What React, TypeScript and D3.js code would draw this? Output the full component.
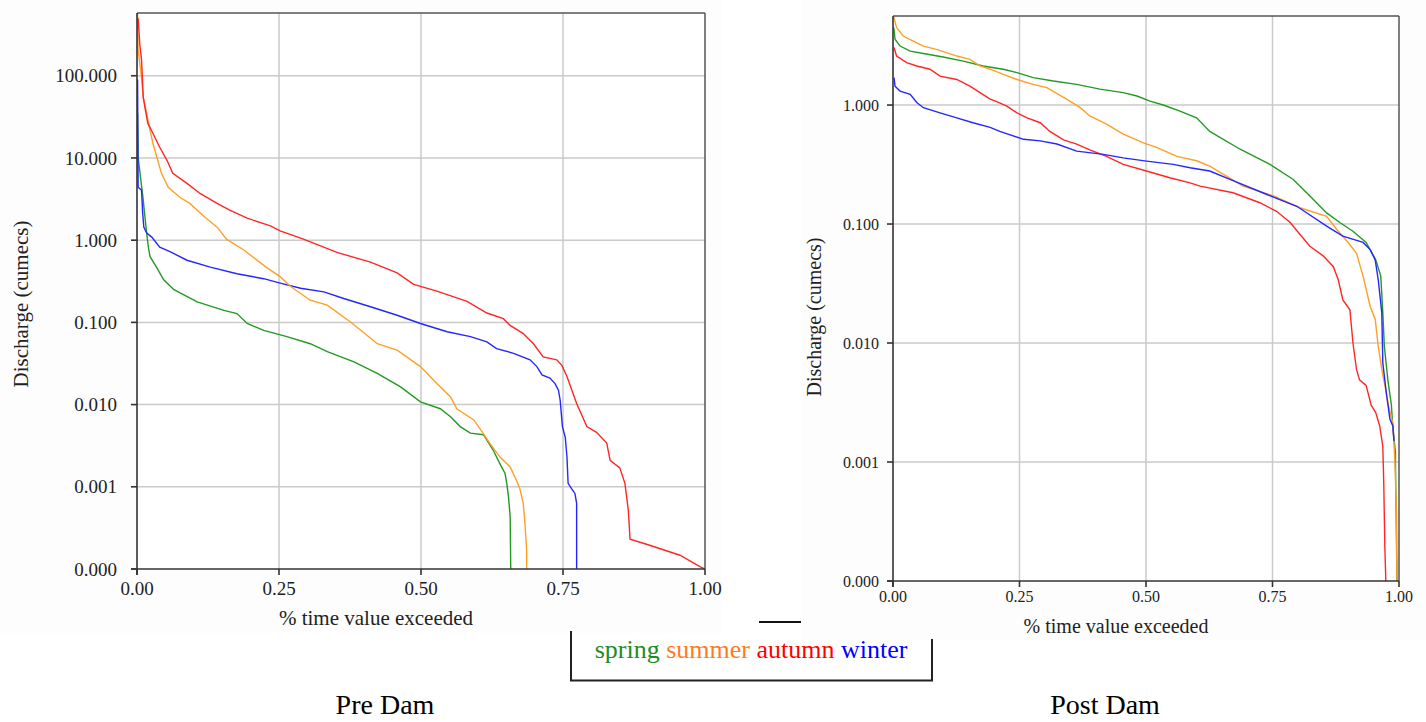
import React from "react";
import * as d3 from "d3";

type Pt = [number, number];

// ---- Tick values ----
const xTickValues = [0, 0.25, 0.5, 0.75, 1];
const preYTickValues = [0.0001, 0.001, 0.01, 0.1, 1, 10, 100];
const postYTickValues = [0.0001, 0.001, 0.01, 0.1, 1];

const seasons = ["spring", "summer", "autumn", "winter"];
const lineColors: Record<string, string> = {
  spring: "#229a22",
  summer: "#ff9f26",
  autumn: "#ff2626",
  winter: "#2626ff",
};
const legendColors: Record<string, string> = {
  spring: "#1e8c1e",
  summer: "#ff7a1e",
  autumn: "#ff0000",
  winter: "#0000ff",
};

// ---- Pre Dam data: [fraction of time exceeded, discharge (cumecs)] ----
const preSpring: Pt[] = [
  [0.001, 35], [0.002, 10.2], [0.011, 3.07], [0.014, 1.9], [0.017, 1.22], [0.02, 0.82],
  [0.023, 0.63], [0.035, 0.46], [0.047, 0.33], [0.065, 0.25], [0.106, 0.178], [0.153, 0.14],
  [0.176, 0.128], [0.194, 0.097], [0.223, 0.08], [0.264, 0.067], [0.305, 0.055], [0.335, 0.044],
  [0.382, 0.033], [0.423, 0.024], [0.464, 0.0164], [0.499, 0.0108], [0.534, 0.0089],
  [0.552, 0.0071], [0.569, 0.0054], [0.587, 0.0045], [0.61, 0.0043], [0.627, 0.0028],
  [0.639, 0.0019], [0.648, 0.00145], [0.651, 0.0011], [0.654, 0.00076], [0.657, 0.00043],
  [0.658, 0.0001],
];
const preSummer: Pt[] = [
  [0.001, 580], [0.002, 205], [0.007, 108], [0.011, 55], [0.017, 35], [0.023, 21.7],
  [0.028, 15.1], [0.035, 10.2], [0.043, 6.5], [0.055, 4.4], [0.076, 3.3], [0.093, 2.8],
  [0.116, 2.0], [0.141, 1.44], [0.158, 1.02], [0.188, 0.76], [0.229, 0.46], [0.252, 0.36],
  [0.27, 0.275], [0.305, 0.186], [0.335, 0.162], [0.376, 0.101], [0.423, 0.055], [0.458, 0.046],
  [0.499, 0.029], [0.528, 0.018], [0.552, 0.0124], [0.563, 0.0089], [0.593, 0.0065],
  [0.61, 0.0044], [0.621, 0.0034], [0.639, 0.0023], [0.657, 0.00174], [0.668, 0.0012],
  [0.674, 0.00095], [0.68, 0.00063], [0.683, 0.00036], [0.686, 0.00017], [0.686, 0.0001],
];
const preAutumn: Pt[] = [
  [0.002, 500], [0.005, 236], [0.008, 155], [0.011, 55], [0.014, 41], [0.019, 26.5],
  [0.028, 20], [0.04, 13.5], [0.053, 9.3], [0.063, 6.5], [0.088, 4.9], [0.111, 3.7],
  [0.141, 2.8], [0.164, 2.3], [0.194, 1.85], [0.235, 1.49], [0.252, 1.3], [0.293, 1.03],
  [0.352, 0.71], [0.411, 0.54], [0.458, 0.4], [0.487, 0.29], [0.528, 0.24], [0.581, 0.18],
  [0.616, 0.13], [0.645, 0.111], [0.657, 0.092], [0.68, 0.073], [0.698, 0.055], [0.715, 0.038],
  [0.739, 0.035], [0.748, 0.03], [0.757, 0.022], [0.774, 0.0103], [0.792, 0.0054],
  [0.809, 0.0046], [0.827, 0.0034], [0.833, 0.0021], [0.85, 0.0017], [0.859, 0.0011],
  [0.865, 0.00052], [0.868, 0.00023], [0.897, 0.0002], [0.956, 0.000147], [0.991, 0.000107],
  [1.0, 0.0001],
];
const preWinter: Pt[] = [
  [0.001, 90], [0.002, 4.4], [0.008, 4.06], [0.01, 2.13], [0.012, 1.44], [0.017, 1.22],
  [0.026, 1.09], [0.04, 0.82], [0.059, 0.72], [0.088, 0.57], [0.129, 0.47], [0.176, 0.39],
  [0.223, 0.34], [0.252, 0.3], [0.288, 0.26], [0.329, 0.235], [0.364, 0.195], [0.411, 0.155],
  [0.458, 0.122], [0.499, 0.097], [0.546, 0.077], [0.587, 0.067], [0.616, 0.058], [0.633, 0.048],
  [0.663, 0.042], [0.692, 0.035], [0.704, 0.029], [0.713, 0.023], [0.727, 0.021], [0.736, 0.018],
  [0.742, 0.015], [0.745, 0.0113], [0.749, 0.0054], [0.754, 0.004], [0.757, 0.0023],
  [0.759, 0.0011], [0.765, 0.00095], [0.771, 0.00083], [0.774, 0.00063], [0.774, 0.0001],
];

// ---- Post Dam data ----
const postSpring: Pt[] = [
  [0.001, 4.5], [0.002, 4.33], [0.004, 3.57], [0.014, 3.13], [0.034, 2.84], [0.06, 2.71],
  [0.099, 2.53], [0.139, 2.34], [0.178, 2.13], [0.218, 2.0], [0.245, 1.87], [0.277, 1.7],
  [0.317, 1.59], [0.363, 1.49], [0.409, 1.36], [0.455, 1.27], [0.482, 1.19], [0.508, 1.08],
  [0.534, 1.0], [0.567, 0.89], [0.6, 0.78], [0.626, 0.6], [0.686, 0.425], [0.745, 0.317],
  [0.791, 0.237], [0.824, 0.172], [0.857, 0.124], [0.883, 0.103], [0.909, 0.087], [0.935, 0.07],
  [0.954, 0.05], [0.964, 0.0365], [0.968, 0.018], [0.971, 0.0094], [0.978, 0.0049],
  [0.985, 0.003], [0.988, 0.0019], [0.993, 0.0012], [0.993, 0.00098], [0.995, 0.00022],
  [0.996, 0.0001],
];
const postSummer: Pt[] = [
  [0.001, 5.6], [0.007, 4.48], [0.02, 3.8], [0.04, 3.45], [0.06, 3.13], [0.086, 2.94],
  [0.126, 2.58], [0.152, 2.42], [0.172, 2.13], [0.192, 2.0], [0.218, 1.81], [0.245, 1.64],
  [0.277, 1.49], [0.304, 1.4], [0.343, 1.12], [0.37, 0.95], [0.389, 0.81], [0.422, 0.69],
  [0.455, 0.57], [0.495, 0.48], [0.521, 0.44], [0.561, 0.37], [0.6, 0.34], [0.626, 0.307],
  [0.692, 0.208], [0.752, 0.172], [0.804, 0.137], [0.857, 0.116], [0.877, 0.09], [0.897, 0.072],
  [0.916, 0.057], [0.929, 0.0365], [0.943, 0.0204], [0.953, 0.0158], [0.959, 0.0094],
  [0.966, 0.006], [0.972, 0.0044], [0.979, 0.003], [0.988, 0.0021], [0.992, 0.00098],
  [0.995, 0.00037], [0.996, 0.0001],
];
const postAutumn: Pt[] = [
  [0.002, 3.04], [0.007, 2.58], [0.027, 2.27], [0.047, 2.13], [0.073, 2.0], [0.093, 1.75],
  [0.126, 1.64], [0.152, 1.44], [0.172, 1.27], [0.192, 1.12], [0.205, 1.07], [0.225, 0.98],
  [0.245, 0.86], [0.265, 0.78], [0.291, 0.71], [0.31, 0.6], [0.337, 0.51], [0.363, 0.47],
  [0.389, 0.42], [0.422, 0.37], [0.455, 0.317], [0.501, 0.279], [0.547, 0.245], [0.587, 0.222],
  [0.607, 0.208], [0.672, 0.183], [0.725, 0.151], [0.758, 0.128], [0.785, 0.103], [0.804, 0.082],
  [0.824, 0.065], [0.85, 0.054], [0.87, 0.044], [0.88, 0.034], [0.889, 0.023], [0.903, 0.019],
  [0.909, 0.01], [0.916, 0.006], [0.922, 0.0049], [0.935, 0.0044], [0.945, 0.003],
  [0.954, 0.0026], [0.962, 0.002], [0.968, 0.00135], [0.97, 0.00063], [0.972, 0.000195],
  [0.974, 0.0001],
];
const postWinter: Pt[] = [
  [0.002, 1.7], [0.004, 1.44], [0.014, 1.31], [0.034, 1.23], [0.047, 1.05], [0.06, 0.95],
  [0.093, 0.86], [0.126, 0.78], [0.158, 0.71], [0.192, 0.65], [0.211, 0.6], [0.258, 0.515],
  [0.291, 0.5], [0.324, 0.47], [0.363, 0.41], [0.416, 0.385], [0.455, 0.36], [0.501, 0.338],
  [0.554, 0.317], [0.587, 0.297], [0.626, 0.279], [0.666, 0.237], [0.739, 0.177],
  [0.798, 0.141], [0.857, 0.096], [0.889, 0.079], [0.929, 0.07], [0.943, 0.061], [0.953, 0.05],
  [0.959, 0.034], [0.966, 0.018], [0.968, 0.0068], [0.975, 0.0038], [0.982, 0.0023],
  [0.988, 0.002], [0.99, 0.0015],
];

const preSeries: Record<string, Pt[]> = {
  spring: preSpring, summer: preSummer, autumn: preAutumn, winter: preWinter,
};
const postSeries: Record<string, Pt[]> = {
  spring: postSpring, summer: postSummer, autumn: postAutumn, winter: postWinter,
};

const FONT = "'Liberation Serif', 'Times New Roman', serif";

type ChartProps = {
  id: string;
  series: Record<string, Pt[]>;
  x0: number; x1: number; yTop: number; yBot: number; vmax: number;
  yTicks: number[];
  tickFont: number; tickLabelGap: number; xTickBaseline: number;
  titleFont: number;
  yTitleX: number; yTitleY: number;
  xTitleX: number; xTitleY: number;
  drawOrder: string[];
};

function Chart(p: ChartProps) {
  const x = d3.scaleLinear().domain([0, 1]).range([p.x0, p.x1]);
  const y = d3.scaleLog().domain([0.0001, p.vmax]).range([p.yBot, p.yTop]);
  const line = d3.line<Pt>().x((d) => x(d[0])).y((d) => y(d[1]));
  const fmtY = d3.format(".3f");
  const fmtX = d3.format(".2f");
  return (
    <g>
      <defs>
        <clipPath id={p.id}>
          <rect x={p.x0} y={p.yTop} width={p.x1 - p.x0} height={p.yBot - p.yTop} />
        </clipPath>
      </defs>
      <rect x={p.x0} y={p.yTop} width={p.x1 - p.x0} height={p.yBot - p.yTop} fill="#ffffff" />
      {/* grid */}
      {xTickValues.filter((t) => t > 0 && t < 1).map((t) => (
        <line key={"gx" + t} x1={x(t)} x2={x(t)} y1={p.yTop} y2={p.yBot} stroke="#cacaca" strokeWidth={1.5} />
      ))}
      {p.yTicks.filter((t) => t > 0.0001).map((t) => (
        <line key={"gy" + t} x1={p.x0} x2={p.x1} y1={y(t)} y2={y(t)} stroke="#cacaca" strokeWidth={1.5} />
      ))}
      {/* series */}
      <g clipPath={`url(#${p.id})`}>
        {p.drawOrder.map((s) => (
          <path key={s} d={line(p.series[s]) || ""} fill="none" stroke={lineColors[s]} strokeWidth={1.4} />
        ))}
      </g>
      {/* frame */}
      <line x1={p.x0} x2={p.x1} y1={p.yTop} y2={p.yTop} stroke="#555" strokeWidth={1.5} />
      <line x1={p.x1} x2={p.x1} y1={p.yTop} y2={p.yBot} stroke="#555" strokeWidth={1.5} />
      <line x1={p.x0} x2={p.x0} y1={p.yTop} y2={p.yBot + 6} stroke="#333" strokeWidth={1.6} />
      <line x1={p.x0 - 6} x2={p.x1} y1={p.yBot} y2={p.yBot} stroke="#333" strokeWidth={1.6} />
      {/* y ticks */}
      {p.yTicks.map((t) => (
        <g key={"ty" + t}>
          <line x1={p.x0 - 6} x2={p.x0} y1={y(t)} y2={y(t)} stroke="#333" strokeWidth={1.6} />
          <text x={p.x0 - p.tickLabelGap} y={y(t)} dy="0.35em" textAnchor="end"
            fontFamily={FONT} fontSize={p.tickFont} fill="#222">{fmtY(t)}</text>
        </g>
      ))}
      {/* x ticks */}
      {xTickValues.map((t) => (
        <g key={"tx" + t}>
          <line x1={x(t)} x2={x(t)} y1={p.yBot} y2={p.yBot + 6} stroke="#333" strokeWidth={1.6} />
          <text x={x(t)} y={p.xTickBaseline} textAnchor="middle"
            fontFamily={FONT} fontSize={p.tickFont} fill="#222">{fmtX(t)}</text>
        </g>
      ))}
      <text transform={`translate(${p.yTitleX},${p.yTitleY}) rotate(-90)`} textAnchor="middle" dy="0.32em"
        fontFamily={FONT} fontSize={p.titleFont} fill="#222">Discharge (cumecs)</text>
      <text x={p.xTitleX} y={p.xTitleY} textAnchor="middle"
        fontFamily={FONT} fontSize={p.titleFont} fill="#222">% time value exceeded</text>
    </g>
  );
}

export default function App() {
  return (
    <svg width={1426} height={722} viewBox="0 0 1426 722"
      style={{ position: "absolute", left: 0, top: 0, display: "block", background: "#ffffff" }}>
      <rect x={0} y={0} width={722} height={633} fill="#fdfdfd" />
      <rect x={801} y={0} width={625} height={640} fill="#fdfdfd" />
      <Chart id="clipPre" series={preSeries}
        x0={137} x1={705} yTop={13} yBot={569} vmax={580}
        yTicks={preYTickValues} tickFont={19} tickLabelGap={20} xTickBaseline={595}
        titleFont={21} yTitleX={21} yTitleY={304} xTitleX={376} xTitleY={625}
        drawOrder={["spring", "winter", "summer", "autumn"]} />
      <Chart id="clipPost" series={postSeries}
        x0={893} x1={1399} yTop={16} yBot={581} vmax={5.6}
        yTicks={postYTickValues} tickFont={16} tickLabelGap={14} xTickBaseline={602}
        titleFont={20} yTitleX={815} yTitleY={317} xTitleX={1116} xTitleY={633}
        drawOrder={["spring", "summer", "autumn", "winter"]} />
      {/* legend */}
      <line x1={759} x2={801} y1={622} y2={622} stroke="#111" strokeWidth={2} />
      <polyline points="571,631 571,680.5 932,680.5 932,639" fill="none" stroke="#222" strokeWidth={2} />
      <text x={751} y={658} textAnchor="middle" fontFamily={FONT} fontSize={26}>
        {seasons.map((s, i) => (
          <tspan key={s} fill={legendColors[s]}>{(i > 0 ? " " : "") + s}</tspan>
        ))}
      </text>
      <text x={385} y={714} textAnchor="middle" fontFamily={FONT} fontSize={28} fill="#000">Pre Dam</text>
      <text x={1105} y={714} textAnchor="middle" fontFamily={FONT} fontSize={28} fill="#000">Post Dam</text>
    </svg>
  );
}
